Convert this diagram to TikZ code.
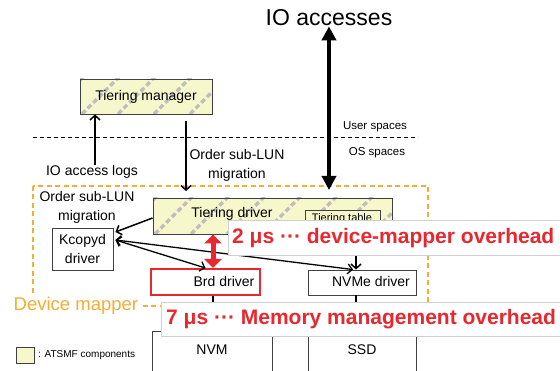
\documentclass[tikz,border=0pt]{standalone}
\usepackage{fontspec}
\setmainfont{Liberation Sans}
\usetikzlibrary{arrows.meta,calc}

\definecolor{atsmf}{HTML}{F7F7CC}
\definecolor{hatchgray}{HTML}{BEBEBE}
\definecolor{dmorange}{HTML}{F5AD35}
\definecolor{ovred}{HTML}{E8282E}
\definecolor{notegray}{HTML}{D0D0D0}

\tikzset{
  box/.style={draw=black!75, line width=0.9pt, fill=white, inner sep=0pt,
    font=\fontsize{14}{18}\selectfont, align=center},
  % yellow component box with dashed grey diagonals
  hatched/.style={box, fill=atsmf,
    path picture={
      \foreach \k in {0,...,14}
        \draw[hatchgray, line width=3.5pt, dash pattern=on 5pt off 3pt]
          ([xshift=\k*36pt-250pt]path picture bounding box.south west) -- ++(300pt,300pt);
    }},
  lbl/.style={font=\fontsize{14}{19}\selectfont, align=center, inner sep=0pt},
  small/.style={font=\fontsize{11.5}{14}\selectfont, inner sep=0pt},
  arr/.style={line width=1.5pt, -{Straight Barb[length=4.5pt,width=10pt,line width=1.5pt]}},
  darr/.style={line width=1.3pt, {Straight Barb[length=4.5pt,width=10pt,line width=1.3pt]}-{Straight Barb[length=4.5pt,width=10pt,line width=1.3pt]}},
  bigarr/.style={line width=3.5pt, {Triangle[length=14pt,width=14pt]}-{Triangle[length=14pt,width=14pt]}},
  redarr/.style={ovred, line width=5pt, {Triangle[length=9pt,width=17pt]}-{Triangle[length=9pt,width=17pt]}},
  note/.style={draw=notegray, line width=1pt, fill=white, inner sep=0pt, anchor=north west},
  notetext/.style={ovred, font=\bfseries\fontsize{21}{24}\selectfont, anchor=west, inner sep=0pt},
}

\begin{document}
\begin{tikzpicture}[x=1pt,y=-1pt]
\useasboundingbox (0,0) rectangle (560,371);

% device-mapper boundary and the user/OS split
\draw[dmorange, line width=1.8pt, dash pattern=on 5pt off 3.5pt] (33,186) rectangle (428,306);
\draw[black, line width=1pt, dash pattern=on 4pt off 3pt] (33,138) -- (418,138);
\node[small] (us) at (375,127) {User spaces};
\node[small] (os) at (377,153) {OS spaces};

% title
\node[font=\fontsize{23}{26}\selectfont, inner sep=0pt] (io) at (329,18) {IO accesses};

% components
\node[hatched, minimum width=132pt, minimum height=35pt] (tm) at (146,96.5) {Tiering manager};
\node[hatched, minimum width=239pt, minimum height=36pt] (td) at (272.5,216) {};
\node[lbl] (tdl) at (232,214) {Tiering driver};
\node[box, fill=atsmf, line width=0.7pt, minimum width=75pt, minimum height=30pt] (tt) at (342.5,225) {};
\node[font=\fontsize{11}{13}\selectfont, inner sep=0pt] (ttl) at (342,219) {Tiering table};
\node[box, minimum width=61pt, minimum height=42pt, font=\fontsize{14}{19}\selectfont] (kc) at (82.5,249) {Kcopyd\\driver};
\node[box, draw=ovred, line width=2pt, minimum width=109pt, minimum height=26pt] (brd) at (205.5,282) {};
\node[lbl] (brdl) at (224,281) {Brd driver};
\node[box, minimum width=108pt, minimum height=25pt] (nv) at (362,282.5) {};
\node[lbl] (nvl) at (371,281) {NVMe driver};
\node[box, minimum width=120pt, minimum height=50pt] (nvm) at (212,356) {};
\node[lbl] (nvml) at (212,350) {NVM};
\node[box, minimum width=108pt, minimum height=55pt] (ssd) at (362,353) {};
\node[lbl] (ssdl) at (362,350) {SSD};

% labels
\node[lbl] (logs) at (92,172) {IO access logs};
\node[lbl] (ord1) at (237,165) {Order sub-LUN\\migration};
\node[lbl] (ord2) at (87,207) {Order sub-LUN\\migration};

% connectors
\coordinate (ioend) at (329,190);
\coordinate (ordend) at (186,191);
\draw[bigarr] (io.south) -- (ioend);
\draw[arr] ([xshift=40pt,yshift=-7pt]tm.south) -- (ordend);
\draw[arr] (logs.north -| 95,0) -- (tm.south -| 95,0);
\draw[arr] ([yshift=-2pt]td.west) -- ([xshift=2pt,yshift=17pt]kc.east);
\draw[darr] ([xshift=2pt,yshift=9pt]kc.east) -- (brd.north);
\draw[darr] ([xshift=2pt,yshift=9pt]kc.east) -- ([xshift=-9pt]nv.north);
\draw[arr] (tt.south -| 356,0) -- ([xshift=-6pt]nv.north);
\draw[line width=1.5pt] ([xshift=7.5pt]brd.south) -- (nvm.north -| 213,0);
\draw[line width=1.5pt] ([xshift=-6pt]nv.south) -- (ssd.north -| 356,0);
\draw[redarr] (td.south -| 213,0) -- ([xshift=7.5pt]brd.north);

% overhead notes
\node[note, minimum width=340pt, minimum height=35pt] (n2) at (228,220) {};
\node[notetext] (n2t) at (232,238) {2 μs ··· device-mapper overhead};
\node[note, minimum width=405pt, minimum height=34pt] (n7) at (161,302) {};
\node[notetext] (n7t) at (166,319.5) {7 μs ··· Memory management overhead};

% device mapper caption
\node[dmorange, fill=white, font=\fontsize{18.5}{20}\selectfont, inner sep=1.5pt, anchor=west] (dm) at (12,306) {Device mapper};

% legend
\node[box, fill=atsmf, minimum width=18pt, minimum height=16pt] (leg) at (25,355) {};
\node[font=\fontsize{10}{12}\selectfont, inner sep=0pt, anchor=west] (legl) at (38,355) {: ATSMF components};
\end{tikzpicture}
\end{document}
